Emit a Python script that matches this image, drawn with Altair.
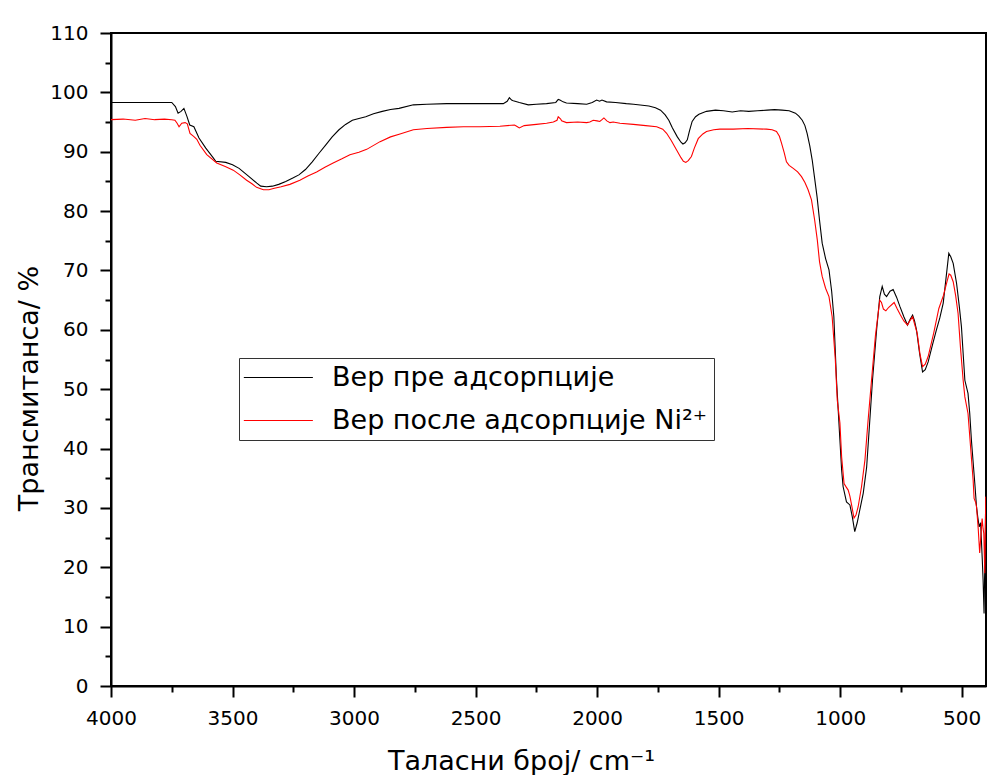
import altair as alt
import pandas as pd

# ---- data ----
series_names = ["Вер пре адсорпције", "Вер после адсорпције Ni²⁺"]

wn_before = [4000, 3900, 3800, 3750, 3735, 3724, 3712, 3700, 3688, 3676, 3659, 3638, 3610, 3580, 3569,
             3528, 3500, 3473, 3432, 3400, 3384, 3360, 3336, 3310, 3281, 3250, 3227, 3200, 3172, 3145,
             3117, 3090, 3062, 3035, 3007, 2980, 2952, 2920, 2884, 2850, 2815, 2756, 2700, 2619, 2550,
             2482, 2420, 2386, 2370, 2361, 2352, 2345, 2320, 2283, 2250, 2208, 2170, 2160, 2153, 2140,
             2126, 2080, 2043, 2020, 2002, 1990, 1980, 1961, 1924, 1880, 1850, 1787, 1760, 1739, 1720,
             1705, 1690, 1670, 1655, 1647, 1638, 1629, 1620, 1609, 1595, 1581, 1550, 1513, 1480, 1444,
             1410, 1376, 1340, 1300, 1270, 1239, 1210, 1184, 1170, 1156, 1145, 1136, 1125, 1115, 1105,
             1095, 1085, 1074, 1060, 1046, 1035, 1026, 1015, 1001, 994, 988, 974, 960, 950, 940,
             930, 922, 905, 891, 878, 867, 850, 837, 827, 818, 809, 795, 782, 768, 754,
             738, 723, 712, 702, 694, 686, 673, 661, 650, 638, 620, 604, 590, 576, 565,
             553, 545, 535, 521, 510, 501, 494, 487, 474, 467, 460, 446, 439, 434, 428,
             422, 419, 415, 412, 408, 406, 404, 402]
t_before = [98.3, 98.3, 98.3, 98.3, 97.6, 96.5, 96.8, 97.3, 96.0, 94.5, 94.2, 92.3, 90.6, 89.0, 88.4,
            88.2, 87.8, 87.2, 85.8, 84.7, 84.2, 84.1, 84.2, 84.5, 85.0, 85.6, 86.1, 87.0, 88.3, 89.7,
            91.1, 92.5, 93.7, 94.6, 95.3, 95.6, 95.9, 96.4, 96.8, 97.1, 97.3, 97.9, 98.0, 98.1, 98.1,
            98.1, 98.1, 98.1, 98.5, 99.1, 98.7, 98.6, 98.3, 97.9, 98.0, 98.1, 98.3, 98.8, 98.7, 98.4,
            98.2, 98.1, 98.0, 98.3, 98.7, 98.5, 98.7, 98.4, 98.3, 98.1, 98.0, 97.7, 97.4, 97.0, 96.2,
            95.3, 94.0, 92.5, 91.6, 91.3, 91.5, 92.0, 93.5, 95.1, 95.9, 96.3, 96.8, 97.0, 96.9, 96.7,
            96.9, 96.8, 96.9, 97.0, 97.1, 97.0, 96.9, 96.5, 96.0, 95.3, 94.4, 93.1, 91.0, 88.6, 85.5,
            82.4, 78.5, 74.6, 72.0, 70.1, 66.5, 62.2, 51.5, 41.4, 36.4, 33.6, 31.0, 30.5, 28.5, 26.0,
            27.5, 29.1, 32.5, 36.9, 44.8, 51.5, 60.0, 65.6, 67.3, 66.0, 65.6, 66.5, 66.8, 65.5, 63.9,
            62.2, 60.8, 61.8, 62.5, 61.5, 60.0, 56.0, 52.9, 53.3, 54.6, 57.5, 60.0, 62.0, 64.5, 68.5,
            72.9, 72.3, 71.2, 67.8, 64.0, 60.5, 56.0, 51.5, 49.3, 46.0, 41.4, 34.1, 30.2, 28.5, 26.8,
            27.5, 24.6, 21.0, 17.9, 12.2, 18.0, 21.2, 29.0]

wn_after = [4000, 3950, 3900, 3860, 3820, 3780, 3750, 3737, 3728, 3720, 3709, 3695, 3686, 3675, 3660,
            3647, 3634, 3606, 3565, 3530, 3497, 3470, 3442, 3420, 3401, 3373, 3350, 3332, 3300, 3264,
            3223, 3190, 3154, 3120, 3086, 3050, 3017, 2980, 2948, 2893, 2850, 2811, 2756, 2700, 2619,
            2550, 2482, 2400, 2340, 2331, 2320, 2300, 2250, 2208, 2180, 2165, 2160, 2150, 2146, 2126,
            2080, 2043, 2030, 2016, 2000, 1989, 1980, 1972, 1960, 1947, 1934, 1906, 1851, 1800, 1755,
            1730, 1714, 1695, 1673, 1655, 1645, 1635, 1625, 1612, 1600, 1584, 1565, 1550, 1520, 1495,
            1440, 1380, 1303, 1280, 1262, 1250, 1241, 1230, 1221, 1210, 1193, 1175, 1159, 1145, 1132,
            1118, 1105, 1094, 1085, 1074, 1060, 1046, 1033, 1020, 1012, 1001, 994, 984, 975, 967,
            960, 953, 943, 935, 926, 912, 898, 885, 871, 855, 837, 830, 822, 812, 800,
            778, 765, 752, 738, 723, 712, 702, 694, 683, 672, 661, 650, 638, 615, 594,
            575, 560, 552, 545, 535, 525, 515, 505, 494, 487, 474, 463, 453, 449, 443,
            439, 432, 426, 420, 416, 412, 409, 405, 403, 401]
t_after = [95.4, 95.5, 95.3, 95.6, 95.4, 95.5, 95.4, 95.3, 94.8, 94.2, 94.8, 94.9, 94.7, 93.1, 92.6,
           92.1, 91.1, 89.5, 88.1, 87.5, 86.9, 86.1, 85.2, 84.6, 84.0, 83.6, 83.6, 83.8, 84.1, 84.5,
           85.2, 85.9, 86.6, 87.4, 88.1, 88.8, 89.5, 89.9, 90.4, 91.7, 92.5, 93.0, 93.7, 93.9, 94.1,
           94.2, 94.2, 94.3, 94.5, 94.3, 94.0, 94.4, 94.6, 94.8, 95.0, 95.3, 95.9, 95.5, 95.2, 94.9,
           95.0, 94.9, 95.0, 95.3, 95.2, 95.1, 95.4, 95.7, 95.2, 94.9, 95.0, 94.8, 94.6, 94.4, 94.2,
           93.8, 93.1, 91.9, 90.3, 89.0, 88.4, 88.2, 88.5, 89.2, 90.6, 92.2, 93.0, 93.4, 93.7, 93.8,
           93.8, 93.9, 93.8, 93.7, 93.4, 92.6, 91.4, 89.8, 88.3, 87.7, 87.2, 86.6, 85.8, 84.8, 83.6,
           81.9, 78.5, 75.1, 71.5, 69.0, 67.0, 65.6, 62.2, 55.0, 48.2, 44.3, 38.6, 34.1, 33.5, 33.0,
           32.0, 30.5, 28.3, 28.8, 30.2, 33.6, 38.1, 44.8, 51.5, 59.0, 65.0, 64.6, 63.5, 63.2, 63.8,
           64.6, 63.5, 62.5, 61.5, 60.8, 61.6, 62.2, 61.0, 59.4, 56.0, 53.8, 54.2, 55.5, 59.5, 63.6,
           65.8, 68.2, 69.4, 69.2, 68.1, 65.8, 62.8, 57.0, 51.5, 48.7, 45.9, 40.0, 34.7, 31.6, 31.0,
           30.2, 26.5, 22.4, 26.0, 28.2, 26.5, 25.7, 19.0, 25.0, 31.9]

x_ticks = list(range(500, 4001, 250))
y_ticks = list(range(0, 111, 5))

df = pd.concat([
    pd.DataFrame({"wn": wn_before, "t": t_before, "series": series_names[0], "k": 0}),
    pd.DataFrame({"wn": wn_after, "t": t_after, "series": series_names[1], "k": 1}),
], ignore_index=True)

FONT = "DejaVu Sans"

x_axis = alt.Axis(
    values=x_ticks, format="d",
    labelExpr="datum.value % 500 === 0 ? datum.label : ''",
    tickSize={"condition": {"test": "datum.value % 500 === 0", "value": 11}, "value": 6},
    tickWidth=2, tickColor="black", domainColor="black", domainWidth=2,
    labelFontSize=20, labelFont=FONT, labelColor="black", labelPadding=11,
    labelFlush=False, labelOverlap=False, grid=False,
    titleFontSize=27, titleFont=FONT, titleFontWeight="normal", titleColor="black",
    titleX=410, titleY=83, titleAlign="center", titleBaseline="alphabetic",
)
y_axis = alt.Axis(
    values=y_ticks, format="d",
    labelExpr="datum.value % 10 === 0 ? datum.label : ''",
    tickSize={"condition": {"test": "datum.value % 10 === 0", "value": 11}, "value": 6},
    tickWidth=2, tickColor="black", domainColor="black", domainWidth=2,
    labelFontSize=20, labelFont=FONT, labelColor="black", labelPadding=12,
    labelFlush=False, labelOverlap=False, grid=False,
    titleFontSize=27, titleFont=FONT, titleFontWeight="normal", titleColor="black",
    titleX=-74, titleY=355, titleAngle=270, titleAlign="center", titleBaseline="alphabetic",
)

chart = alt.Chart(df).mark_line(strokeWidth=1.1, clip=True).encode(
    x=alt.X("wn:Q", title="Таласни број/ cm⁻¹",
            scale=alt.Scale(domain=[400, 4000], reverse=True, nice=False, zero=False),
            axis=x_axis),
    y=alt.Y("t:Q", title="Трансмитанса/ %",
            scale=alt.Scale(domain=[0, 110], nice=False, zero=False),
            axis=y_axis),
    color=alt.Color("series:N",
                    scale=alt.Scale(domain=series_names, range=["#000000", "#ff0000"]),
                    legend=alt.Legend(title=None, orient="none", legendX=128, legendY=325,
                                      symbolType="M-1.7,0L6.3,0", symbolSize=298,
                                      symbolStrokeWidth=1.2, labelFontSize=27, labelFont=FONT,
                                      labelColor="black", labelOffset=60, labelLimit=700,
                                      strokeColor="#333333", fillColor="white", padding=6,
                                      rowPadding=15)),
    detail="k:N",
).properties(
    width=875, height=653,
    autosize=alt.AutoSizeParams(type="none"),
    padding={"left": 103, "top": 25, "right": 9, "bottom": 89},
).configure_view(stroke="black", strokeWidth=2)

chart.save("out.html", embed_options={"renderer": "svg", "actions": False})
